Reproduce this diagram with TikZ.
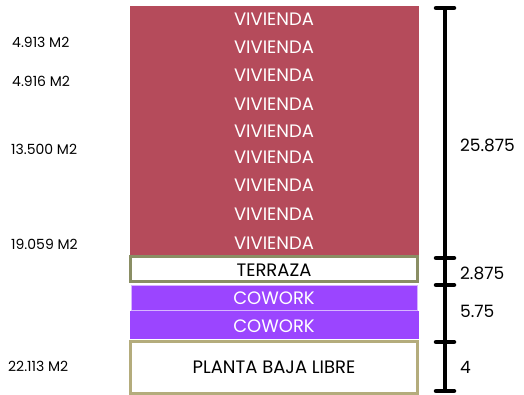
\documentclass[tikz,border=0pt]{standalone}
\usepackage{fontspec}
\setmainfont{Poppins}
\definecolor{vivred}{HTML}{B54B5B}
\definecolor{coworkc}{HTML}{9B45FF}
\definecolor{terrazac}{HTML}{8A8E64}
\definecolor{plantac}{HTML}{B4AC7C}
\begin{document}
\begin{tikzpicture}[x=1pt,y=-1pt,
  uso/.style={font=\fontsize{18}{18}\selectfont},
  area/.style={font=\fontsize{14}{14}\selectfont,anchor=west,inner sep=0pt},
  cota/.style={font=\fontsize{17}{17}\selectfont,anchor=west,inner sep=0pt},
  borde/.style={line width=3pt}]
  \useasboundingbox (0,0) rectangle (524,395);
  % vivienda
  \fill[vivred] (129.5,6) rectangle (419,255);
  \foreach \y [count=\i] in {19,47,75,104,131,157,185,214,243}
    \node[uso,text=white] (viv\i) at (274,\y) {VIVIENDA};
  % terraza
  \draw[borde,draw=terrazac,fill=white] (130.5,256.5) rectangle (417.5,281.5);
  \node[uso] (terraza) at (274,270) {TERRAZA};
  % cowork
  \draw[fill=coworkc,draw=coworkc!40] (131.5,285) rectangle (417,310);
  \node[uso,text=white] (cowork1) at (274,298) {COWORK};
  \fill[coworkc] (129.5,311) rectangle (419,339);
  \node[uso,text=white] (cowork2) at (274,326) {COWORK};
  % planta baja
  \draw[borde,draw=plantac,fill=white] (130.5,341.5) rectangle (417.5,393.5);
  \node[uso] (planta) at (274,367) {PLANTA BAJA LIBRE};
  % areas
  \node[area] (a1) at (12,42) {4.913 M2};
  \node[area] (a2) at (12,81) {4.916 M2};
  \node[area] (a3) at (11,149) {13.500 M2};
  \node[area] (a4) at (11,244) {19.059 M2};
  \node[area] (a5) at (8,366) {22.113 M2};
  % cotas
  \coordinate (c0) at (445,8);
  \coordinate (c1) at (445,258);
  \coordinate (c2) at (445,285);
  \coordinate (c3) at (445,342);
  \coordinate (c4) at (445,391);
  \draw[line width=4.5pt] (c0) -- (c4);
  \foreach \c in {c0,c1,c2,c3,c4}
    \draw[line width=4.5pt,line cap=round] ([xshift=-9pt]\c) -- ([xshift=9pt]\c);
  \node[cota] (h1) at (460,145) {25.875};
  \node[cota] (h2) at (460,273) {2.875};
  \node[cota] (h3) at (460,311) {5.75};
  \node[cota] (h4) at (460,367) {4};
\end{tikzpicture}
\end{document}
